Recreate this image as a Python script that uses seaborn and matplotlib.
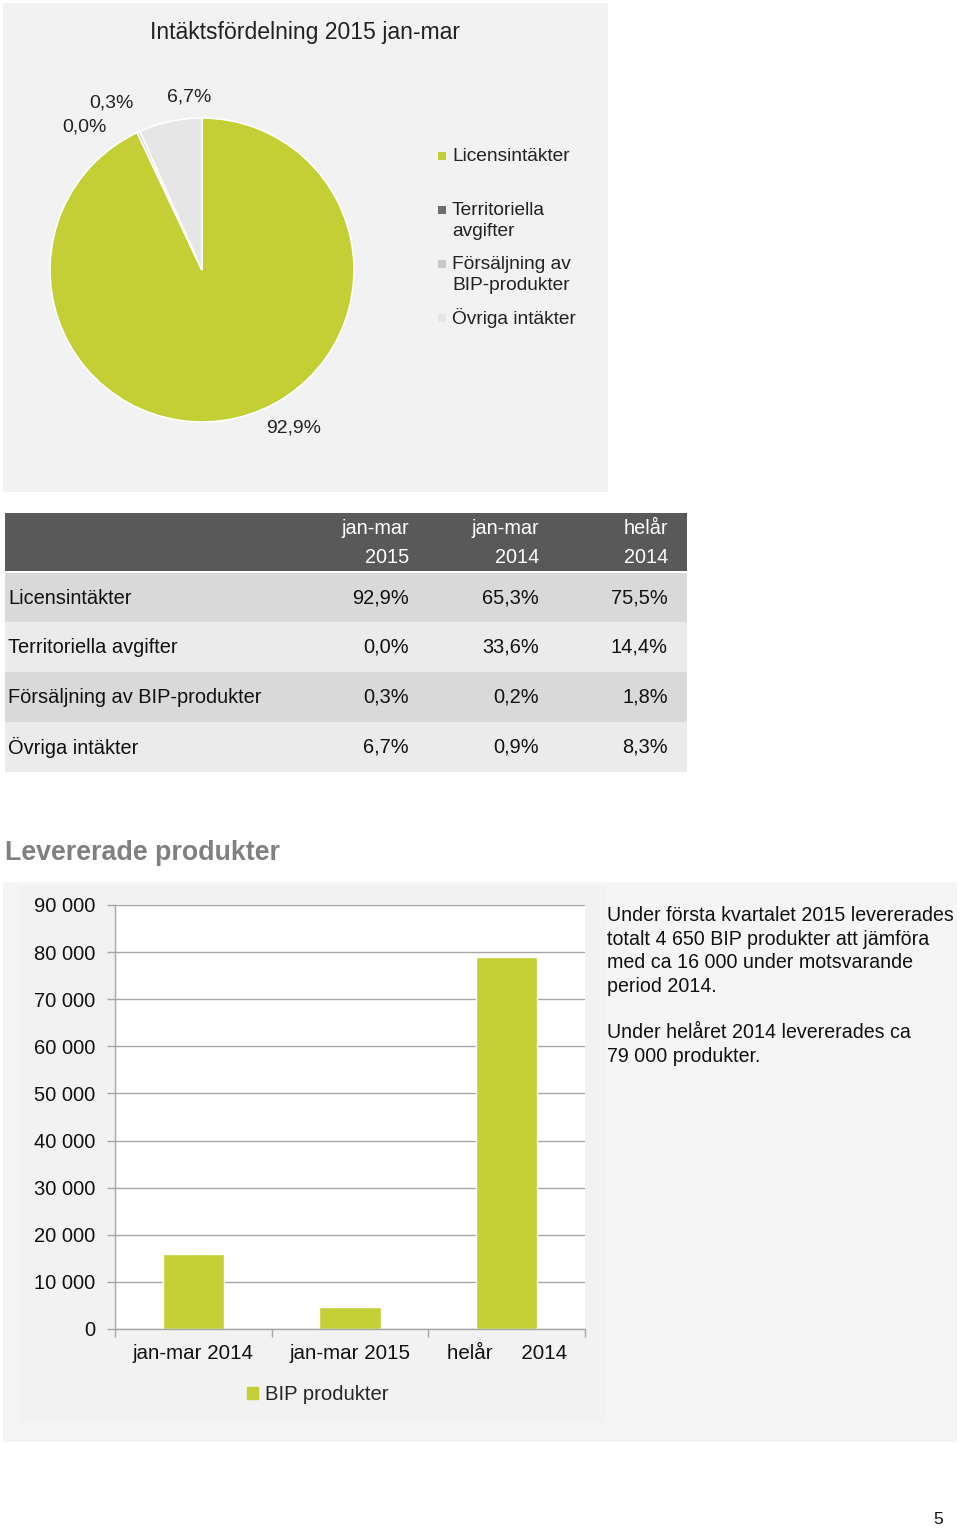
import matplotlib
matplotlib.use("Agg")
import matplotlib.pyplot as plt
from matplotlib.patches import Rectangle, Patch
from matplotlib.ticker import FuncFormatter, FixedLocator
import seaborn as sns

# --- data -------------------------------------------------------------
pie_title = "Intäktsfördelning 2015 jan-mar"
pie_categories = ["Licensintäkter", "Territoriella avgifter",
                  "Försäljning av BIP-produkter", "Övriga intäkter"]
pie_legend_labels = ["Licensintäkter", "Territoriella\navgifter",
                     "Försäljning av\nBIP-produkter", "Övriga intäkter"]
pie_values = [92.9, 0.0, 0.3, 6.7]

table_header_top = ["jan-mar", "jan-mar", "helår"]
table_header_bottom = ["2015", "2014", "2014"]
table_rows = ["Licensintäkter", "Territoriella avgifter",
              "Försäljning av BIP-produkter", "Övriga intäkter"]
share_2015_q1 = [92.9, 0.0, 0.3, 6.7]
share_2014_q1 = [65.3, 33.6, 0.2, 0.9]
share_2014_full = [75.5, 14.4, 1.8, 8.3]

bar_heading = "Levererade produkter"
bar_categories = ["jan-mar 2014", "jan-mar 2015", "helår     2014"]
bip_products = [16000, 4650, 79000]
bar_series = "BIP produkter"
bar_note = ("Under första kvartalet 2015 levererades\n"
            "totalt 4 650 BIP produkter att jämföra\n"
            "med ca 16 000 under motsvarande\n"
            "period 2014.\n\n"
            "Under helåret 2014 levererades ca\n"
            "79 000 produkter.")
page_number = "5"

# --- style ------------------------------------------------------------
sns.set_theme(style="white")
plt.rcParams['font.family'] = ['Liberation Sans', 'DejaVu Sans']

W, H = 960, 1530
GREEN = "#c3cf35"
pie_colors = [GREEN, "#6e6e6e", "#c8c8c8", "#e6e6e6"]
PANEL = "#f2f2f2"
TXT = "#111111"


def fmt_pct(v):
    return f"{v:.1f}%".replace(".", ",")


def px_axes(x0, y0, x1, y1, **kw):
    return fig.add_axes([x0 / W, 1 - y1 / H, (x1 - x0) / W, (y1 - y0) / H], **kw)


fig = plt.figure(figsize=(W / 100, H / 100), dpi=100)
fig.patch.set_facecolor("white")

# page axes in pixel coordinates (y downwards)
page = fig.add_axes([0, 0, 1, 1], zorder=0)
page.set_xlim(0, W)
page.set_ylim(H, 0)
page.axis("off")

# panels
page.add_patch(Rectangle((3, 3), 605, 489, color=PANEL, lw=0))
page.add_patch(Rectangle((3, 882), 954, 560, color="#f5f5f5", lw=0))
page.add_patch(Rectangle((20, 885), 585, 537, color=PANEL, lw=0))

# --- pie --------------------------------------------------------------
pie_ax = px_axes(3, 3, 608, 492, zorder=2)
pie_ax.set_facecolor("none")
cx, cy, r = 202, H - 270, 152
pie_ax.pie(pie_values, colors=pie_colors, startangle=90, counterclock=False,
           center=(cx, cy), radius=r,
           wedgeprops=dict(edgecolor="white", linewidth=1.2))
pie_ax.set_xlim(3, 608)
pie_ax.set_ylim(H - 492, H - 3)
pie_ax.set_aspect("auto")
pie_ax.axis("off")

page.text(305, 32, pie_title, ha="center", va="center", fontsize=16.6, color="#222222")

pie_label_pos = [(294, 428), (84, 127), (111, 103), (189, 97)]
for v, (lx, ly) in zip(pie_values, pie_label_pos):
    page.text(lx, ly, fmt_pct(v), ha="center", va="center", fontsize=14, color="#222222")

legend_y = [156, 221, 275, 318]
for lab, col, ly in zip(pie_legend_labels, pie_colors, legend_y):
    first_line_y = ly - (11 if "\n" in lab else 0)
    page.add_patch(Rectangle((438, first_line_y - 4), 8, 8, color=col, lw=0, zorder=3))
    page.text(452, ly, lab, ha="left", va="center", fontsize=13.8,
              color="#222222", linespacing=1.38)

# --- table ------------------------------------------------------------
page.add_patch(Rectangle((5, 513), 682, 58, color="#595959", lw=0))
col_right = [409, 539, 668]
for xr, top, bot in zip(col_right, table_header_top, table_header_bottom):
    page.text(xr, 528, top, ha="right", va="center", fontsize=14.3, color="white")
    page.text(xr, 557, bot, ha="right", va="center", fontsize=14.3, color="white")

row_top = [573, 622, 672, 722]
row_colors = ["#d9d9d9", "#ebebeb", "#d9d9d9", "#ebebeb"]
for i, name in enumerate(table_rows):
    y0 = row_top[i]
    page.add_patch(Rectangle((5, y0), 682, 49.5, color=row_colors[i], lw=0))
    yc = y0 + 25
    page.text(8, yc, name, ha="left", va="center", fontsize=14.4, color=TXT)
    for xr, vals in zip(col_right, [share_2015_q1, share_2014_q1, share_2014_full]):
        page.text(xr, yc, fmt_pct(vals[i]), ha="right", va="center",
                  fontsize=14.4, color=TXT)

# --- bar chart ----------------------------------------------------------
page.text(5, 853, bar_heading, ha="left", va="center", fontsize=19.3,
          fontweight="bold", color="#808080")

bar_ax = px_axes(115, 905, 585, 1329, zorder=2)
bar_ax.set_facecolor("white")
sns.barplot(x=bar_categories, y=bip_products, color=GREEN, width=0.39,
            saturation=1, label=bar_series, ax=bar_ax)
bar_ax.set_ylim(0, 90000)
bar_ax.set_xlim(-0.5, 2.5)
bar_ax.set_yticks(range(0, 90001, 10000))
bar_ax.yaxis.set_major_formatter(FuncFormatter(lambda v, p: f"{int(v):,}".replace(",", " ")))
bar_ax.grid(axis="y", color="#a6a6a6", linewidth=1)
bar_ax.set_axisbelow(True)
for side in ["top", "right"]:
    bar_ax.spines[side].set_visible(False)
for side in ["left", "bottom"]:
    bar_ax.spines[side].set_color("#a6a6a6")
    bar_ax.spines[side].set_linewidth(1)
bar_ax.xaxis.set_minor_locator(FixedLocator([-0.5, 0.5, 1.5, 2.5]))
bar_ax.tick_params(axis="x", which="major", length=0, pad=11, labelsize=14.8, labelcolor=TXT)
bar_ax.tick_params(axis="x", which="minor", length=6, color="#a6a6a6", width=1, bottom=True)
bar_ax.tick_params(axis="y", length=6, color="#a6a6a6", width=1, left=True,
                   pad=8, labelsize=14.5, labelcolor=TXT)
bar_ax.set_xlabel("")
bar_ax.set_ylabel("")
bar_ax.legend(handles=[Patch(color=GREEN, label=bar_series)], loc="center",
              bbox_to_anchor=(318 / W, 1 - 1395 / H), bbox_transform=fig.transFigure,
              frameon=False, fontsize=14.6, handlelength=0.55, handleheight=0.55,
              handletextpad=0.35)

page.text(607, 906, bar_note, ha="left", va="top", fontsize=14.1,
          color=TXT, linespacing=1.3)

page.text(938, 1519, page_number, ha="center", va="center", fontsize=12.5, color=TXT)

fig.savefig("out.png", dpi=100)
